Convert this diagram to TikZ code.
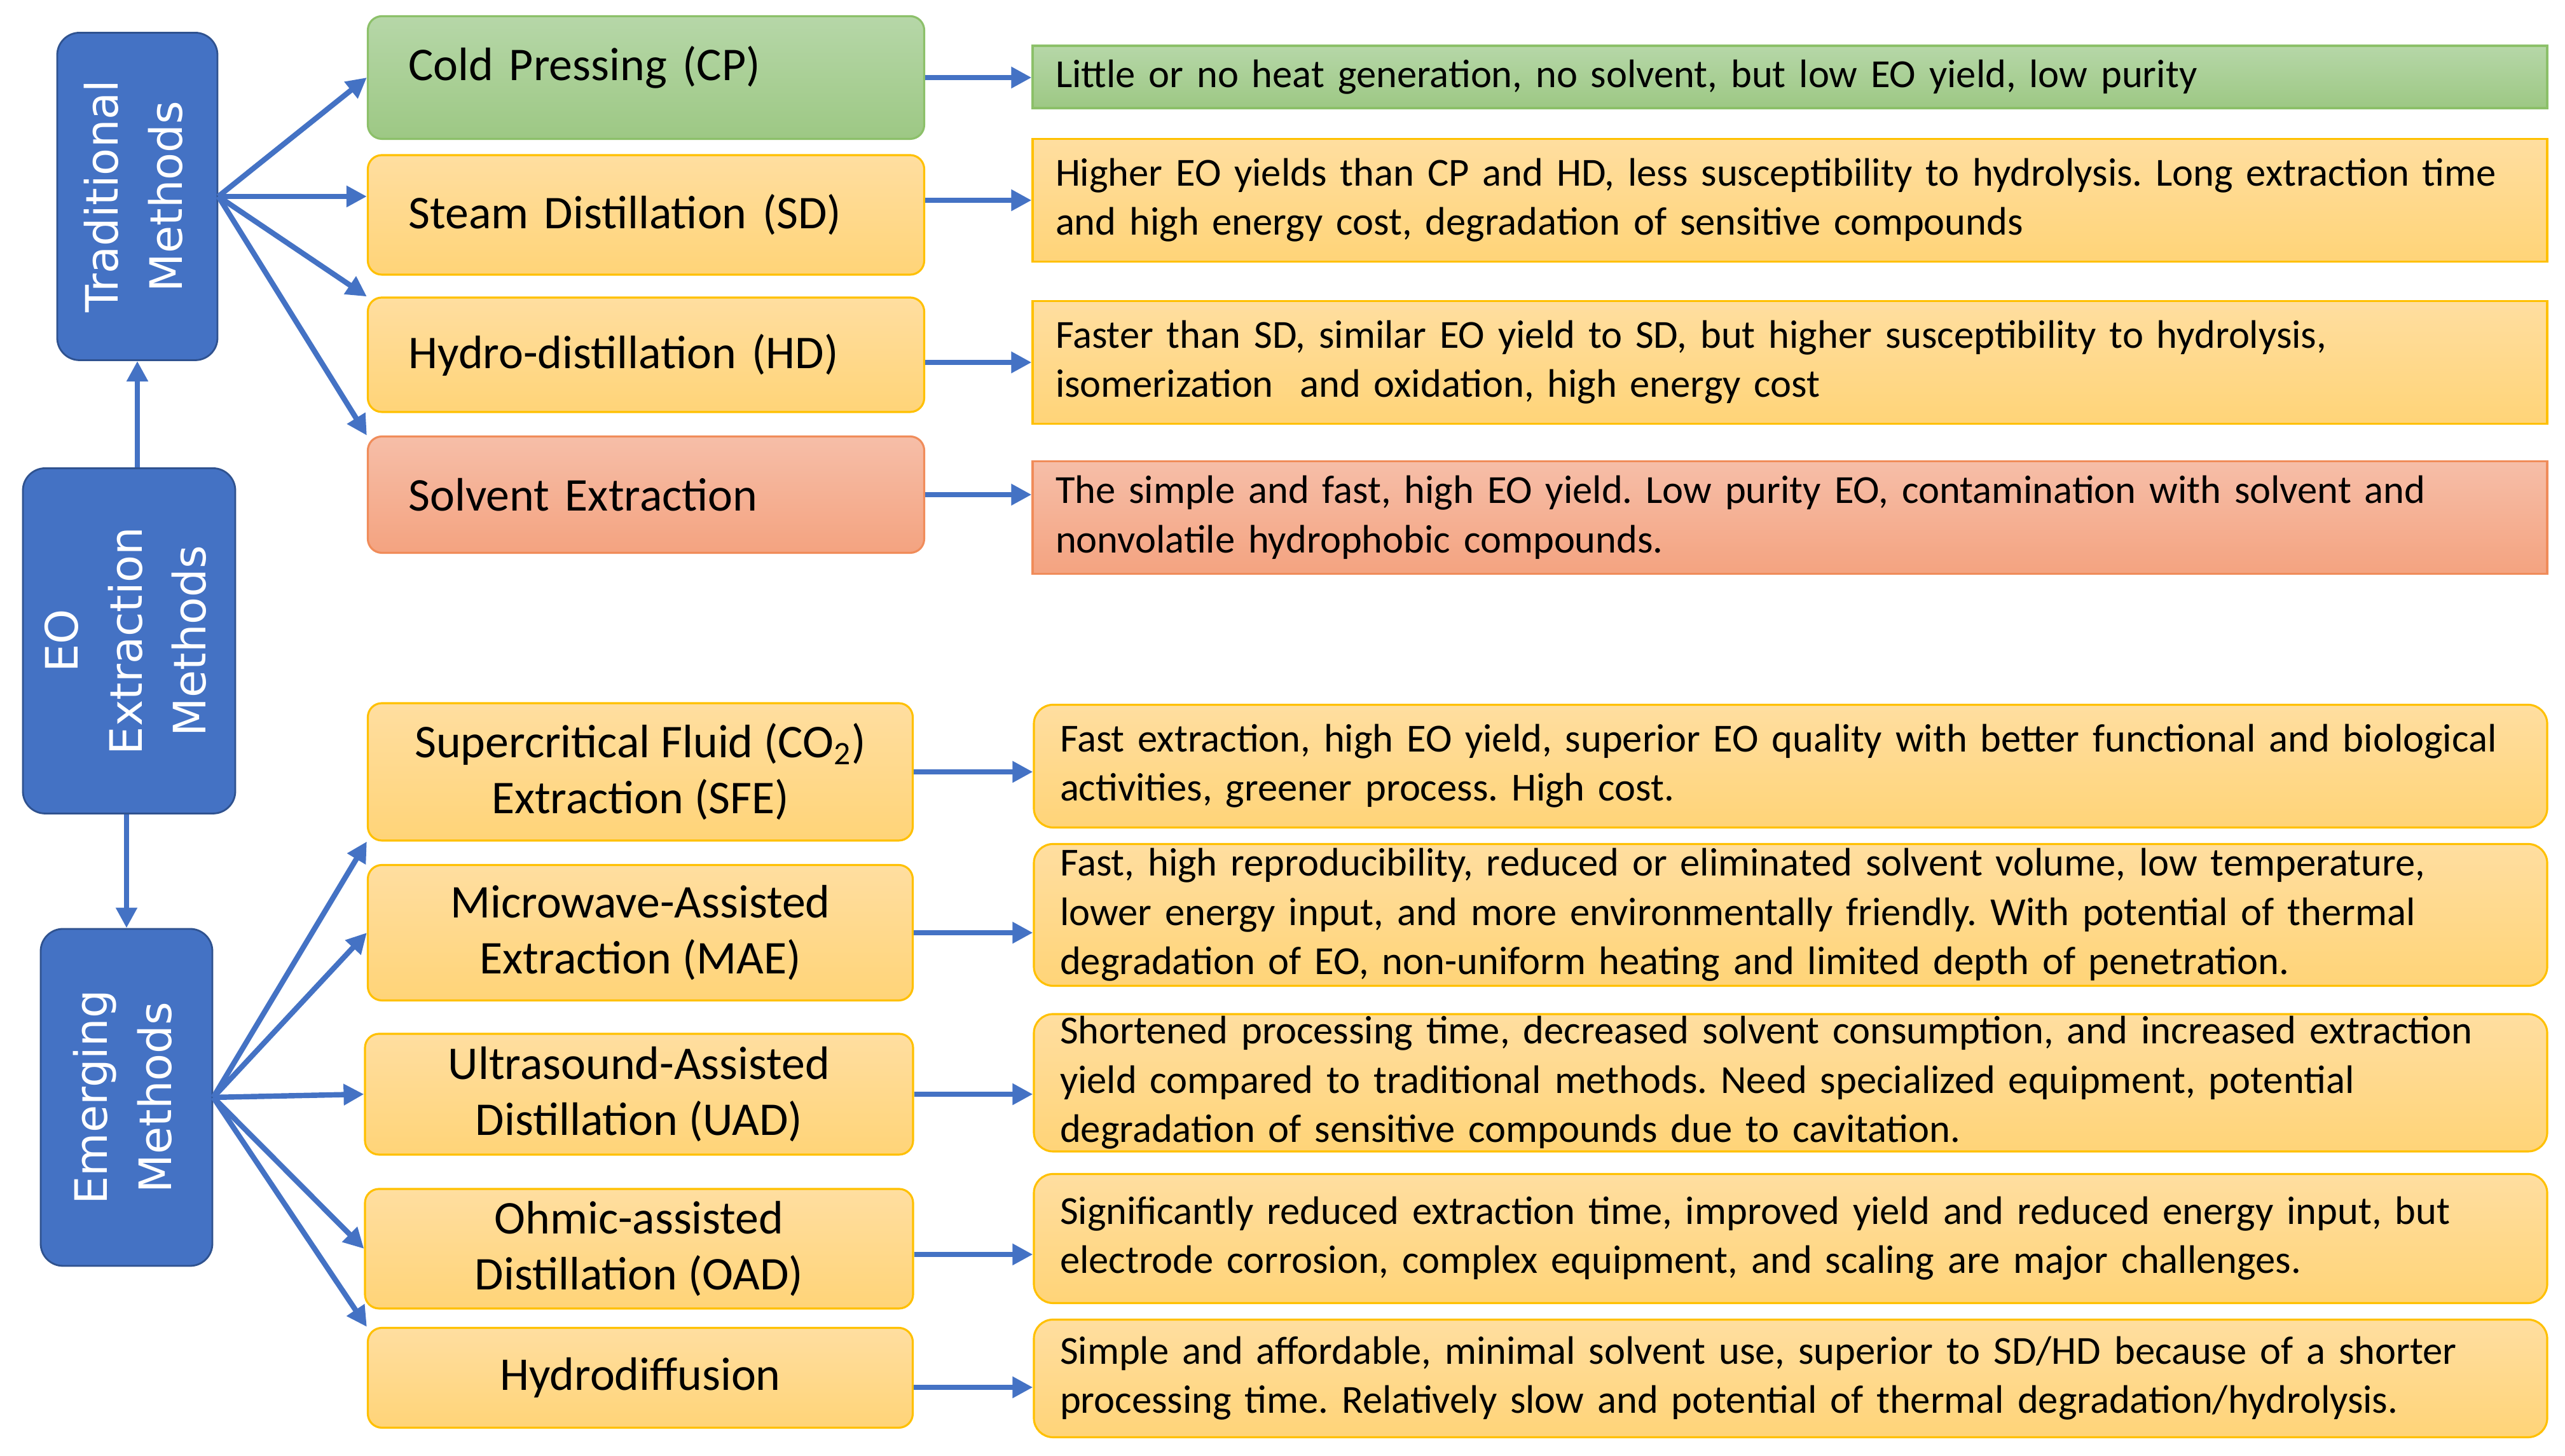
\documentclass[tikz,border=0pt]{standalone}
\usepackage{fontspec}
\usepackage{graphicx}
\setmainfont{Carlito}
\newfontfamily\blockfont{DejaVu Sans}
\usetikzlibrary{arrows.meta}
\frenchspacing
\definecolor{eoblue}{RGB}{68,114,196}
\definecolor{eoblueline}{RGB}{47,82,143}
\definecolor{greentop}{RGB}{182,215,168}
\definecolor{greenbot}{RGB}{157,200,132}
\definecolor{greenline}{RGB}{140,192,105}
\definecolor{yellowtop}{RGB}{255,222,160}
\definecolor{yellowbot}{RGB}{255,212,120}
\definecolor{yellowline}{RGB}{255,192,0}
\definecolor{salmontop}{RGB}{246,190,168}
\definecolor{salmonbot}{RGB}{244,163,128}
\definecolor{salmonline}{RGB}{240,140,90}
\newcommand{\vlabel}[1]{\rotatebox{90}{\begin{tabular}{@{}c@{}}#1\end{tabular}}}

\begin{document}
\begin{tikzpicture}[
  group/.style={draw=eoblueline, fill=eoblue, rounded corners=0.35cm, line width=0.8pt,
    text=white, font=\blockfont\fontsize{20}{28.5}\selectfont},
  method/.style={rounded corners=0.22cm, line width=0.9pt, inner ysep=1pt,
    font=\fontsize{21}{25}\selectfont},
  methodL/.style={method, align=left, inner xsep=0.64cm, text width=7.47cm},
  methodC/.style={method, align=center},
  desc/.style={inner xsep=0.36cm, inner ysep=1pt, align=left, text width=23.1cm,
    line width=0.9pt, font=\fontsize{17.8}{22}\selectfont},
  descR/.style={desc, rounded corners=0.3cm, inner xsep=0.41cm, text width=22.98cm},
  greenfill/.style={draw=greenline, top color=greentop, bottom color=greenbot},
  yellowfill/.style={draw=yellowline, top color=yellowtop, bottom color=yellowbot},
  salmonfill/.style={draw=salmonline, top color=salmontop, bottom color=salmonbot},
  >={Triangle[length=3.2mm,width=3.2mm]},
  arr/.style={->, draw=eoblue, line width=2.4pt},
  ]
  \useasboundingbox (0,0) rectangle (40.34,22.90);

  % Groups
  \node[group, minimum width=2.52cm, minimum height=5.15cm] (trad) at (2.16,19.81)
    {\vlabel{Traditional\\Methods}};
  \node[group, minimum width=3.34cm, minimum height=5.43cm] (eo) at (2.03,12.82)
    {\vlabel{EO\\Extraction\\Methods}};
  \node[group, minimum width=2.70cm, minimum height=5.30cm] (emer) at (1.99,5.64)
    {\vlabel{Emerging\\Methods}};

  % Traditional methods
  \node[methodL, greenfill, minimum height=1.93cm] (cp) at (10.16,21.68)
    {\raisebox{0.45cm}{Cold Pressing (CP)}};
  \node[methodL, yellowfill, minimum height=1.88cm] (sd) at (10.16,19.52) {Steam Distillation (SD)};
  \node[methodL, yellowfill, minimum height=1.80cm] (hd) at (10.16,17.32) {Hydro-distillation (HD)};
  \node[methodL, salmonfill, minimum height=1.83cm] (se) at (10.16,15.12) {Solvent Extraction};

  % Emerging methods
  \node[methodC, yellowfill, minimum width=8.57cm, minimum height=2.16cm] (sfe) at (10.07,10.76)
    {Supercritical Fluid (CO\textsubscript{2})\\Extraction (SFE)};
  \node[methodC, yellowfill, minimum width=8.57cm, minimum height=2.13cm] (mae) at (10.07,8.23)
    {Microwave-Assisted\\Extraction (MAE)};
  \node[methodC, yellowfill, minimum width=8.62cm, minimum height=1.90cm] (uad) at (10.05,5.69)
    {Ultrasound-Assisted\\Distillation (UAD)};
  \node[methodC, yellowfill, minimum width=8.62cm, minimum height=1.88cm] (oad) at (10.05,3.26)
    {Ohmic-assisted\\Distillation (OAD)};
  \node[methodC, yellowfill, minimum width=8.57cm, minimum height=1.57cm] (hdf) at (10.07,1.23)
    {Hydrodiffusion};

  % Descriptions (traditional)
  \node[desc, greenfill, minimum height=0.98cm] (cpd) at (28.15,21.69)
    {Little or no heat generation, no solvent, but low EO yield, low purity};
  \node[desc, yellowfill, minimum height=1.93cm] (sdd) at (28.15,19.75)
    {Higher EO yields than CP and HD, less susceptibility to hydrolysis. Long extraction time\\
     and high energy cost, degradation of sensitive compounds};
  \node[desc, yellowfill, minimum height=1.93cm] (hdd) at (28.15,17.20)
    {Faster than SD, similar EO yield to SD, but higher susceptibility to hydrolysis,\\
     isomerization\ \ and oxidation, high energy cost};
  \node[desc, salmonfill, minimum height=1.77cm] (sed) at (28.15,14.76)
    {The simple and fast, high EO yield. Low purity EO, contamination with solvent and\\
     nonvolatile hydrophobic compounds.};

  % Descriptions (emerging)
  \node[descR, yellowfill, minimum height=1.93cm] (sfed) at (28.16,10.85)
    {Fast extraction, high EO yield, superior EO quality with better functional and biological\\
     activities, greener process. High cost.};
  \node[descR, yellowfill, minimum height=2.23cm] (maed) at (28.16,8.51)
    {Fast, high reproducibility, reduced or eliminated solvent volume, low temperature,\\
     lower energy input, and more environmentally friendly. With potential of thermal\\
     degradation of EO, non-uniform heating and limited depth of penetration.};
  \node[descR, yellowfill, minimum height=2.16cm] (uadd) at (28.16,5.87)
    {Shortened processing time, decreased solvent consumption, and increased extraction\\
     yield compared to traditional methods. Need specialized equipment, potential\\
     degradation of sensitive compounds due to cavitation.};
  \node[descR, yellowfill, minimum height=2.03cm] (oadd) at (28.16,3.42)
    {Significantly reduced extraction time, improved yield and reduced energy input, but\\
     electrode corrosion, complex equipment, and scaling are major challenges.};
  \node[descR, yellowfill, minimum height=1.85cm] (hdfd) at (28.16,1.22)
    {Simple and affordable, minimal solvent use, superior to SD/HD because of a shorter\\
     processing time. Relatively slow and potential of thermal degradation/hydrolysis.};

  % Group links
  \draw[arr] (eo.north -| trad.south) -- (trad.south);
  \draw[arr] (eo.south -| emer.north) -- (emer.north);

  % Traditional fan
  \draw[arr] (trad.east) -- (cp.west);
  \draw[arr] (trad.east) -- (trad.east -| sd.west);
  \draw[arr] (trad.east) -- (hd.north west);
  \draw[arr] (trad.east) -- (se.north west);
  % Emerging fan
  \draw[arr] (emer.east) -- (sfe.south west);
  \draw[arr] (emer.east) -- (mae.west);
  \draw[arr] (emer.east) -- (uad.west);
  \draw[arr] (emer.east) -- (oad.west);
  \draw[arr] (emer.east) -- (hdf.north west);

  % Method -> description
  \draw[arr] (cp.east) -- (cp.east -| cpd.west);
  \draw[arr] (sd.east |- sdd.west) -- (sdd.west);
  \draw[arr] (hd.east |- hdd.west) -- (hdd.west);
  \draw[arr] (se.east) -- (se.east -| sed.west);
  \draw[arr] (sfe.east) -- (sfe.east -| sfed.west);
  \draw[arr] (mae.east) -- (mae.east -| maed.west);
  \draw[arr] (uad.east) -- (uad.east -| uadd.west);
  \draw[arr] ([yshift=-0.09cm]oad.east) -- ([yshift=-0.09cm]oad.east -| oadd.west);
  \draw[arr] ([yshift=-0.15cm]hdf.east) -- ([yshift=-0.15cm]hdf.east -| hdfd.west);
\end{tikzpicture}
\end{document}
